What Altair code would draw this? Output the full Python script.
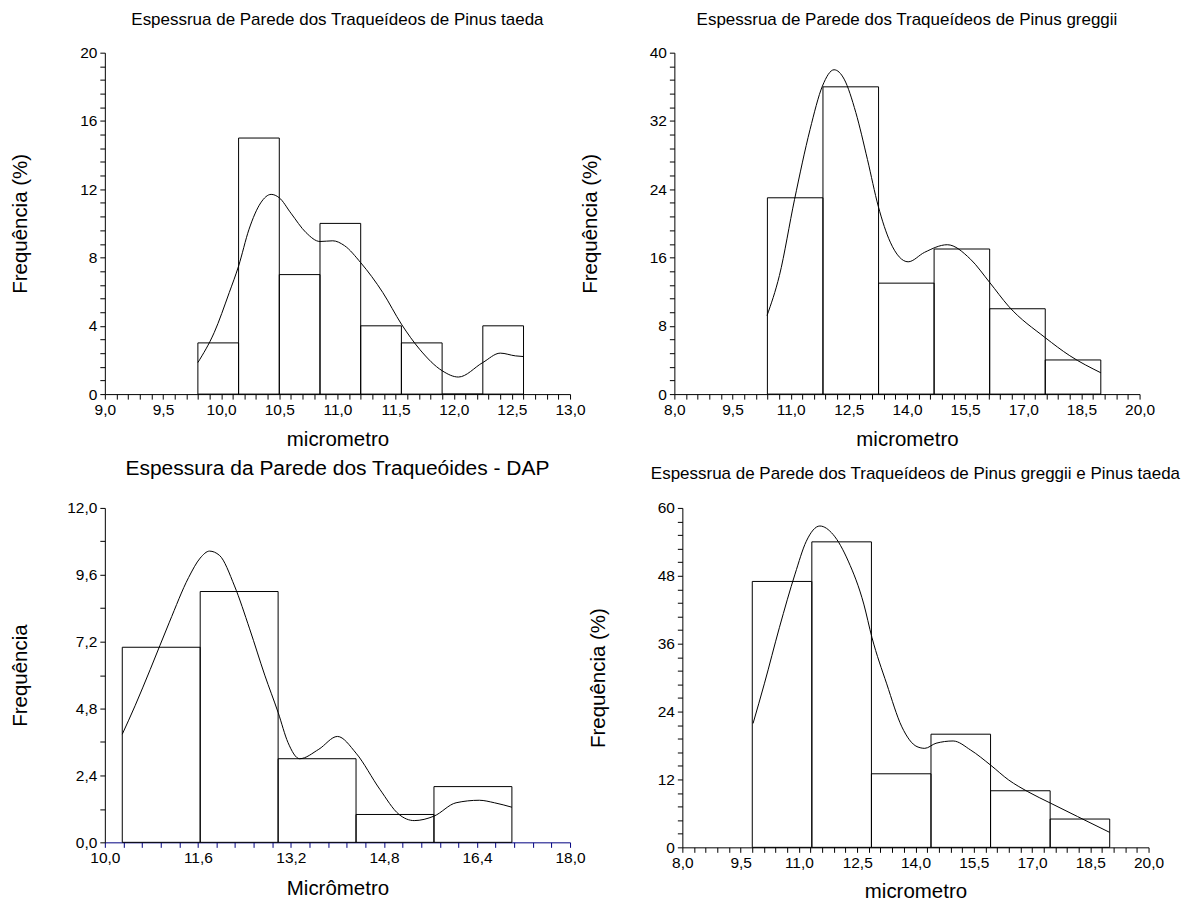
import altair as alt
import pandas as pd

FONT = "Liberation Sans"

# ---------------- Panel 1: Pinus taeda ----------------
p1_title = "Espessrua de Parede dos Traqueídeos de Pinus taeda"
p1_edges = [9.8, 10.15, 10.5, 10.85, 11.2, 11.55, 11.9, 12.25, 12.6]
p1_freq = [3, 15, 7, 10, 4, 3, 0, 4]
p1_cx = [9.80, 9.94, 10.07, 10.15, 10.24, 10.34, 10.43, 10.50, 10.60, 10.73, 10.85,
         10.96, 11.06, 11.20, 11.39, 11.55, 11.71, 11.90, 12.04, 12.25, 12.40, 12.53, 12.60]
p1_cy = [1.85, 3.6, 5.95, 7.5, 9.66, 11.2, 11.7, 11.5, 10.6, 9.46, 8.94,
         8.98, 8.7, 7.7, 5.95, 4.1, 2.6, 1.37, 1.0, 1.85, 2.4, 2.24, 2.2]

# ---------------- Panel 2: Pinus greggii ----------------
p2_title = "Espessrua de Parede dos Traqueídeos de Pinus greggii"
p2_edges = [10.4, 11.833, 13.267, 14.7, 16.133, 17.567, 19.0]
p2_freq = [23, 36, 13, 17, 10, 4]
p2_cx = [10.39, 10.71, 11.10, 11.50, 11.82, 12.12, 12.38, 12.68, 12.98, 13.26,
         13.57, 14.03, 14.45, 15.04, 15.64, 16.13, 16.62, 17.57, 18.2, 19.0]
p2_cy = [9.2, 13.9, 22.8, 31.0, 36.1, 38.0, 36.9, 33.0, 27.5, 22.0,
         17.8, 15.5, 16.6, 17.5, 15.8, 13.1, 10.3, 6.6, 4.5, 2.5]

# ---------------- Panel 3: DAP ----------------
p3_title = "Espessura da Parede dos Traqueóides - DAP"
p3_edges = [10.3, 11.64, 12.98, 14.32, 15.66, 17.0]
p3_freq = [7, 9, 3, 1, 2]
p3_cx = [10.30, 10.52, 10.78, 11.11, 11.44, 11.64, 11.80, 11.97, 12.23, 12.49, 12.75,
         12.98, 13.15, 13.35, 13.68, 14.00, 14.32, 14.73, 15.06, 15.32, 15.66, 16.04,
         16.44, 16.70, 17.0]
p3_cy = [3.88, 4.9, 6.2, 7.9, 9.5, 10.2, 10.45, 10.3, 9.2, 7.66, 6.0,
         4.66, 3.58, 3.0, 3.34, 3.8, 3.2, 1.9, 1.0, 0.78, 0.94, 1.42,
         1.51, 1.42, 1.26]

# ---------------- Panel 4: greggii + taeda ----------------
p4_title = "Espessrua de Parede dos Traqueídeos de Pinus greggii e Pinus taeda"
p4_edges = [9.8, 11.333, 12.867, 14.4, 15.933, 17.467, 19.0]
p4_freq = [47, 54, 13, 20, 10, 5]
p4_cx = [9.82, 10.11, 10.50, 10.90, 11.19, 11.54, 11.88, 12.27, 12.67, 12.88, 13.26,
         13.65, 14.04, 14.24, 14.53, 14.97, 15.42, 15.94, 16.40, 16.89, 17.48, 18.17, 19.0]
p4_cy = [21.9, 28.9, 38.9, 48.3, 54.1, 56.8, 55.3, 50.6, 43.0, 37.1, 28.9,
         21.3, 17.8, 17.5, 18.4, 18.8, 17.2, 14.5, 11.9, 9.85, 7.8, 5.45, 2.64]


def ticks(lo, hi, step):
    n = int(round((hi - lo) / step))
    return [round(lo + i * step, 6) for i in range(n + 1)]


def make_panel(title, title_size, title_offset, edges, freq, cx, cy,
               xdom, xstep, xlab, ydom, ystep, ylab, yfmt,
               xtitle, ytitle, w, h, xcolor="black", title_x=-78, title_y=51):
    bars = pd.DataFrame({"x0": edges[:-1], "x1": edges[1:], "f": freq,
                         "base": [0] * len(freq)})
    curve = pd.DataFrame({"x": cx, "y": cy})
    x0 = xdom[0]
    xexpr = (f"abs((datum.value-({x0}))/{xlab} - round((datum.value-({x0}))/{xlab})) < 0.001"
             f" ? replace(format(datum.value, '.1f'), '.', ',') : ''")
    yexpr = (f"abs(datum.value/{ylab} - round(datum.value/{ylab})) < 0.001"
             f" ? replace(format(datum.value, '{yfmt}'), '.', ',') : ''")
    xscale = alt.Scale(domain=xdom, nice=False, zero=False)
    yscale = alt.Scale(domain=ydom, nice=False, zero=False)
    xaxis = alt.Axis(values=ticks(xdom[0], xdom[1], xstep), labelExpr=xexpr,
                     title=xtitle, domainColor=xcolor, tickColor=xcolor,
                     titleY=title_y)
    yaxis = alt.Axis(values=ticks(ydom[0], ydom[1], ystep), labelExpr=yexpr,
                     title=ytitle, titleX=title_x)
    b = alt.Chart(bars).mark_rect(filled=False, stroke="black", strokeWidth=1).encode(
        x=alt.X("x0:Q", scale=xscale, axis=xaxis),
        x2="x1",
        y=alt.Y("f:Q", scale=yscale, axis=yaxis),
        y2="base",
    )
    ln = alt.Chart(curve).mark_line(color="black", strokeWidth=1,
                                    interpolate="monotone").encode(
        x=alt.X("x:Q", scale=xscale, axis=xaxis),
        y=alt.Y("y:Q", scale=yscale, axis=yaxis))
    return alt.layer(b, ln).properties(
        width=w, height=h,
        title=alt.TitleParams(text=title, fontSize=title_size, font=FONT,
                              fontWeight="normal", anchor="middle", frame="group",
                              offset=title_offset, baseline="alphabetic",
                              color="black"))


p1 = make_panel(p1_title, 17, 4, p1_edges, p1_freq, p1_cx, p1_cy,
                [9, 13], 0.1, 0.5, [0, 20], 0.8, 4, "d",
                "micrometro", "Frequência (%)", 466, 342, title_y=51)
p2 = make_panel(p2_title, 17, 4, p2_edges, p2_freq, p2_cx, p2_cy,
                [8, 20], 0.3, 1.5, [0, 40], 1.6, 8, "d",
                "micrometro", "Frequência (%)", 466, 342, title_y=51)
p3 = make_panel(p3_title, 21, 5, p3_edges, p3_freq, p3_cx, p3_cy,
                [10, 18], 0.32, 1.6, [0, 12], 1.2, 2.4, ".1f",
                "Micrômetro", "Frequência", 466, 335, xcolor="#000080",
                title_x=-78, title_y=52)
p4 = make_panel(p4_title, 17, 4.5, p4_edges, p4_freq, p4_cx, p4_cy,
                [8, 20], 0.3, 1.5, [0, 60], 2.4, 12, "d",
                "micrometro", "Frequência (%)", 467, 340, title_y=50)

row1 = alt.hconcat(p1, p2, spacing=104.5, bounds="flush")
row2 = alt.hconcat(p3, p4, spacing=112.5, bounds="flush")
chart = alt.vconcat(row1, row2, spacing=8, bounds="full").properties(
    padding={"left": 3, "top": 2, "right": 0, "bottom": 0},
    background="white",
).configure_view(stroke=None).configure_axis(
    grid=False, tickSize=5, labelPadding=3,
    labelFontSize=15.5, labelFont=FONT, labelColor="black",
    labelOverlap=False, labelFlush=False, labelBound=False,
    domainColor="black", tickColor="black",
    titleFont=FONT, titleFontSize=20.5, titleFontWeight="normal",
    titleColor="black", titleBaseline="alphabetic",
)

chart.save("out.html", embed_options={"renderer": "svg", "actions": False})
